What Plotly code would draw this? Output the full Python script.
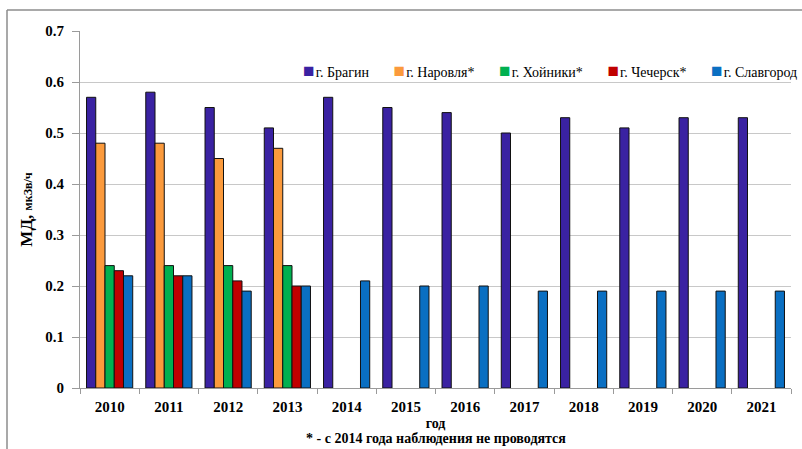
import plotly.graph_objects as go

years = ["2010", "2011", "2012", "2013", "2014", "2015", "2016", "2017", "2018", "2019", "2020", "2021"]
bragin = [0.57, 0.58, 0.55, 0.51, 0.57, 0.55, 0.54, 0.50, 0.53, 0.51, 0.53, 0.53]
narovlya = [0.48, 0.48, 0.45, 0.47, None, None, None, None, None, None, None, None]
hoyniki = [0.24, 0.24, 0.24, 0.24, None, None, None, None, None, None, None, None]
chechersk = [0.23, 0.22, 0.21, 0.20, None, None, None, None, None, None, None, None]
slavgorod = [0.22, 0.22, 0.19, 0.20, 0.21, 0.20, 0.20, 0.19, 0.19, 0.19, 0.19, 0.19]
y_ticks = [0, 0.1, 0.2, 0.3, 0.4, 0.5, 0.6, 0.7]
y_labels = ["0", "0.1", "0.2", "0.3", "0.4", "0.5", "0.6", "0.7"]

series = [
    ("г. Брагин", bragin, "#3a22a2"),
    ("г. Наровля*", narovlya, "#fb9a3c"),
    ("г. Хойники*", hoyniki, "#00b050"),
    ("г. Чечерск*", chechersk, "#c00000"),
    ("г. Славгород", slavgorod, "#0a6fc2"),
]

fig = go.Figure()
for name, vals, col in series:
    fig.add_trace(go.Bar(x=years, y=vals, name=name, showlegend=False,
                         marker=dict(color=col, line=dict(color="#111111", width=1))))

serif = "Liberation Serif, Times New Roman, serif"
W, H = 802, 449
L, R, T, B = 80, 11, 31, 61
pw, ph = W - L - R, H - T - B

def px_x(x):
    return (x - L) / pw

def px_y(y):
    return (H - B - y) / ph

fig.update_layout(
    width=W, height=H,
    margin=dict(l=L, r=R, t=T, b=B, autoexpand=False),
    paper_bgcolor="white", plot_bgcolor="white",
    barmode="group", bargap=0.22, bargroupgap=0.0,
    font=dict(family=serif, color="black"),
    showlegend=False,
    xaxis=dict(showline=True, linecolor="#9a9a9a", linewidth=1, ticks="outside", tickson="boundaries",
               ticklen=5, tickcolor="#9a9a9a", ticklabelstandoff=5,
               tickfont=dict(family=serif, size=15, color="black", weight="bold"),
               title=dict(text="<b>год</b>", font=dict(family=serif, size=14), standoff=4)),
    yaxis=dict(range=[0, 0.7], tickvals=y_ticks, ticktext=y_labels, showline=True, linecolor="#9a9a9a", linewidth=1,
               ticks="outside", ticklen=7, tickcolor="#9a9a9a", ticklabelstandoff=5,
               showgrid=True, gridcolor="#c8c8c8", gridwidth=1, zeroline=False,
               tickfont=dict(family=serif, size=15, color="black", weight="bold"),
               title=dict(text="<b><span style='font-size:17px'>МД,</span> <span style='font-size:12px'>мкЗв/ч</span></b>",
                          font=dict(family=serif, size=17), standoff=8)),
)

# legend line (text annotation built from series names/colours)
gap = "&nbsp;" * 7
legend_text = gap.join(
    f"<span style='color:{col};font-size:19px'>■</span><span style='font-size:5px'>&nbsp;</span>{name}"
    for name, _, col in series
)
fig.add_annotation(text=legend_text, xref="paper", yref="paper", x=px_x(799), y=px_y(70.5),
                   xanchor="right", yanchor="middle", showarrow=False,
                   font=dict(family=serif, size=14, color="black"))

fig.add_annotation(text="<b>* - с 2014 года наблюдения не проводятся</b>", xref="paper", yref="paper",
                   x=0.5, y=px_y(438), xanchor="center", yanchor="middle", showarrow=False,
                   font=dict(family=serif, size=14, color="black"))

# outer frame lines
fig.add_shape(type="line", xref="paper", yref="paper", x0=px_x(7), x1=px_x(803), y0=px_y(10), y1=px_y(10),
              line=dict(color="#8c8c8c", width=1.5))
fig.add_shape(type="line", xref="paper", yref="paper", x0=px_x(7), x1=px_x(7), y0=px_y(10), y1=px_y(450),
              line=dict(color="#8c8c8c", width=1.5))

fig.write_html("out.html", config={"displayModeBar": False},
               post_script="document.body.style.margin='0';document.body.style.padding='0';")
